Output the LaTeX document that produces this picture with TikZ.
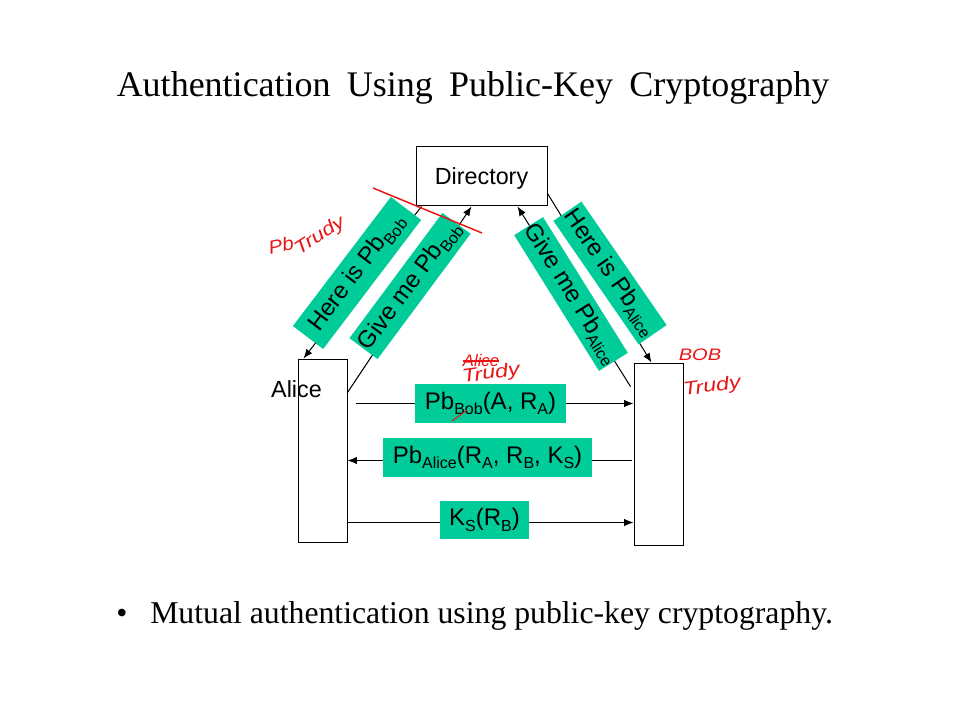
\documentclass[tikz,border=0pt]{standalone}
\usepackage{fontspec}
\setmainfont{Liberation Serif}
\newfontfamily\arialf{Liberation Sans}
\usetikzlibrary{arrows.meta,calc}
\definecolor{msggreen}{RGB}{0,204,153}
\definecolor{inkred}{RGB}{235,20,20}
\newcommand{\sbs}[1]{\raisebox{-4pt}{\fontsize{12}{12}\selectfont #1}}
\def\u{0.75pt}
\pgfdeclarelayer{bg}
\pgfsetlayers{bg,main}
\begin{document}
\begin{tikzpicture}[x=0.75pt,y=-0.75pt,
  box/.style={draw=black, line width=0.75pt, inner sep=0pt},
  msg/.style={fill=msggreen, inner sep=0pt, font=\arialf\fontsize{18}{18}\selectfont},
  arr/.style={line width=0.75pt, -{Latex[length=7pt,width=5.5pt]}},
  ink/.style={text=inkred, font=\arialf\itshape\fontsize{14}{14}\selectfont, inner sep=0pt},
  inkline/.style={draw=inkred, line width=1.1pt}
]
\useasboundingbox (0,0) rectangle (960,720);

% title and bullet
\node[anchor=base, inner sep=0pt, font=\fontsize{27}{27}\selectfont] (title) at (473,97)
  {\spaceskip=0.45em Authentication Using Public-Key Cryptography};
\node[anchor=base, inner sep=0pt, font=\fontsize{23.8}{23.8}\selectfont] (dot) at (122,623) {\textbullet};
\node[anchor=base west, inner sep=0pt, font=\fontsize{23.8}{23.8}\selectfont] (bullet) at (150,623)
  {Mutual authentication using public-key cryptography.};

% boxes
\node[box, minimum width=131*\u, minimum height=59*\u, text height=12.75pt, text depth=0pt,
      font=\arialf\fontsize{17.5}{17.5}\selectfont] (dir) at (481.5,176.5) {Directory};
\node[box, minimum width=49*\u, minimum height=183*\u] (alice) at (322.5,450.5) {};
\node[box, minimum width=49*\u, minimum height=182*\u] (bob) at (658.5,454) {};
\node[anchor=base, inner sep=0pt, font=\arialf\fontsize{17.5}{17.5}\selectfont] (alicelbl) at (296.5,397) {Alice};

% message labels
\node[msg, minimum width=151*\u, minimum height=39*\u] (m1) at (490.5,403.5) {Pb\sbs{Bob}(A, R\sbs{A})};
\node[msg, minimum width=209*\u, minimum height=39*\u] (m2) at (487.5,457.5) {Pb\sbs{Alice}(R\sbs{A}, R\sbs{B}, K\sbs{S})};
\node[msg, minimum width=89*\u, minimum height=38*\u] (m3) at (484.5,520) {K\sbs{S}(R\sbs{B})};

% rotated labels
\node[msg, rotate=52.8, minimum width=162*\u, minimum height=38*\u] (h1) at (357,273) {Here is Pb\sbs{Bob}};
\node[msg, rotate=53.4, minimum width=156*\u, minimum height=35*\u] (g1) at (410,286) {Give me Pb\sbs{Bob}};
\node[msg, rotate=-58, minimum width=160*\u, minimum height=34*\u] (g2) at (571,294) {Give me Pb\sbs{Alice}};
\node[msg, rotate=-55.4, minimum width=150*\u, minimum height=34*\u] (h2) at (610,273) {Here is Pb\sbs{Alice}};

\coordinate (y2) at (0,460.5);
\coordinate (y3) at (0,522.5);

\begin{pgfonlayer}{bg}
  \draw[arr] (alice.east |- m1.center) ++(8,0) -- (bob.west |- m1.center);
  \draw[arr] (bob.west |- y2) ++(-2,0) -- (alice.east |- y2);
  \draw[arr] (alice.east |- y3) -- (bob.west |- y3);
  \draw[arr] ([xshift=6*\u]dir.south west) -- ([xshift=6*\u]alice.north west);
  \draw[arr] ([yshift=-34*\u]alice.north east) -- ([xshift=56*\u]dir.south west);
  \draw[arr] ([xshift=-3*\u,yshift=-24*\u]bob.north west) -- ([xshift=-30*\u]dir.south east);
  \draw[arr] ([yshift=13*\u]dir.south east) -- ([xshift=18*\u]bob.north west);
\end{pgfonlayer}

% red handwriting
\draw[inkline] (373,188) -- (482,233);
\draw[draw=inkred, line width=0.8pt] (452,421) -- (467,410);
\node[ink, rotate=12, xscale=1.1] (pb) at (281,245) {Pb};
\node[ink, rotate=33, xscale=1.2] (tr1) at (320,236) {Trudy};
\node[ink, font=\arialf\itshape\fontsize{12.5}{12.5}\selectfont] (al) at (481,361) {Alice};
\draw[draw=inkred, line width=1pt] (al.west) -- (al.east);
\node[ink, rotate=8, xscale=1.25] (tr2) at (491,374) {Trudy};
\node[ink, xscale=1.2, font=\arialf\itshape\fontsize{12.5}{12.5}\selectfont] (bobi) at (700,355) {BOB};
\node[ink, rotate=8, xscale=1.25] (tr3) at (712,387) {Trudy};
\end{tikzpicture}
\end{document}
